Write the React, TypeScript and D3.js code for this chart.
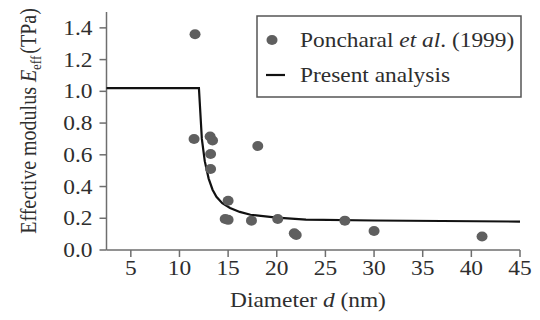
import React from 'react';
import * as d3 from 'd3';

// measured points (Poncharal et al. 1999)
const expD = [11.6, 11.5, 13.15, 13.4, 13.2, 13.2, 18.05, 15.0, 14.7, 15.0, 17.4, 20.1, 21.8, 22.0, 27.0, 30.0, 41.1];
const expE = [1.36, 0.70, 0.715, 0.69, 0.605, 0.51, 0.655, 0.31, 0.195, 0.19, 0.185, 0.195, 0.105, 0.095, 0.185, 0.12, 0.085];

// present analysis curve
const fitD = [2.5, 12.0, 12.3, 12.6, 13.0, 13.4, 13.8, 14.4, 15.2, 16.2, 17.3, 20.0, 23.0, 30.0, 45.0];
const fitE = [1.02, 1.02, 0.70, 0.56, 0.45, 0.38, 0.335, 0.295, 0.265, 0.24, 0.222, 0.204, 0.192, 0.186, 0.179];

const xTicks = [5, 10, 15, 20, 25, 30, 35, 40, 45];
const yTicks = [0, 0.2, 0.4, 0.6, 0.8, 1.0, 1.2, 1.4];

const W = 540;
const H = 320;
const margin = { top: 12, right: 20, bottom: 70, left: 106.5 };
const font = 'Liberation Serif';
const txt = '#2e2e2e';
const axisCol = '#6e6e6e';
const dotCol = '#5f5f5f';
const sx = 1.17; // the source image is stretched horizontally

export default function App() {
  const x = d3.scaleLinear().domain([2.5, 45]).range([margin.left, W - margin.right]);
  const y = d3.scaleLinear().domain([0, 1.5]).range([H - margin.bottom, margin.top]);

  const pts = fitD.map((d, i) => [d, fitE[i]] as [number, number]);
  const line = d3.line<[number, number]>()
    .x(d => x(d[0]))
    .y(d => y(d[1]));

  const y0 = y(0);
  const ts = { fontFamily: font };

  return (
    <svg width={W} height={H} style={{ position: 'absolute', left: 0, top: 0, background: '#fff', fontFamily: font }}>
      {/* axes */}
      <line x1={x(2.5)} x2={x(45)} y1={y0} y2={y0} stroke={axisCol} strokeWidth={1.5} />
      <line x1={x(2.5)} x2={x(2.5)} y1={y(1.5)} y2={y0} stroke={axisCol} strokeWidth={1.5} />
      {xTicks.map(t => (
        <g key={'x' + t}>
          <line x1={x(t)} x2={x(t)} y1={y0} y2={y0 + 7} stroke={axisCol} strokeWidth={1.5} />
          <text transform={`translate(${x(t)},${y0 + 25}) scale(${sx},1)`} textAnchor="middle"
            fontSize={20} fill={txt} style={ts}>{t}</text>
        </g>
      ))}
      {yTicks.map(t => (
        <g key={'y' + t}>
          <line x1={x(2.5) - 7} x2={x(2.5)} y1={y(t)} y2={y(t)} stroke={axisCol} strokeWidth={1.5} />
          <text transform={`translate(${x(2.5) - 14},${y(t)}) scale(${sx},1)`} textAnchor="end"
            dy="0.35em" fontSize={20} fill={txt} style={ts}>{t.toFixed(1)}</text>
        </g>
      ))}

      {/* axis titles */}
      <text transform={`translate(308,307) scale(${sx},1)`} textAnchor="middle" fontSize={20} fill={txt} style={ts}>
        Diameter <tspan fontStyle="italic">d</tspan> (nm)
      </text>
      <text transform={`translate(36,121) rotate(-90) scale(1,${sx})`} textAnchor="middle" fontSize={20} fill={txt} style={ts}>
        Effective modulus <tspan fontStyle="italic">E</tspan>
        <tspan fontSize={13} dy={4}>eff</tspan>
        <tspan dy={-4} dx={2}>(TPa)</tspan>
      </text>

      {/* data */}
      <path d={line(pts) ?? ''} fill="none" stroke="#111" strokeWidth={2.2} />
      {expD.map((d, i) => (
        <ellipse key={'p' + i} cx={x(d)} cy={y(expE[i])} rx={5.5} ry={5} fill={dotCol} />
      ))}

      {/* legend */}
      <rect x={257} y={16} width={264} height={81} fill="#fff" stroke="#555" strokeWidth={1.5} />
      <ellipse cx={272} cy={40} rx={5.5} ry={5} fill={dotCol} />
      <line x1={266} x2={285} y1={75} y2={75} stroke="#111" strokeWidth={2.2} />
      <text transform={`translate(300,47) scale(${sx},1)`} fontSize={20} fill={txt} style={ts}>
        Poncharal <tspan fontStyle="italic">et al</tspan>. (1999)
      </text>
      <text transform={`translate(300,82) scale(${sx},1)`} fontSize={20} fill={txt} style={ts}>
        Present analysis
      </text>
    </svg>
  );
}
